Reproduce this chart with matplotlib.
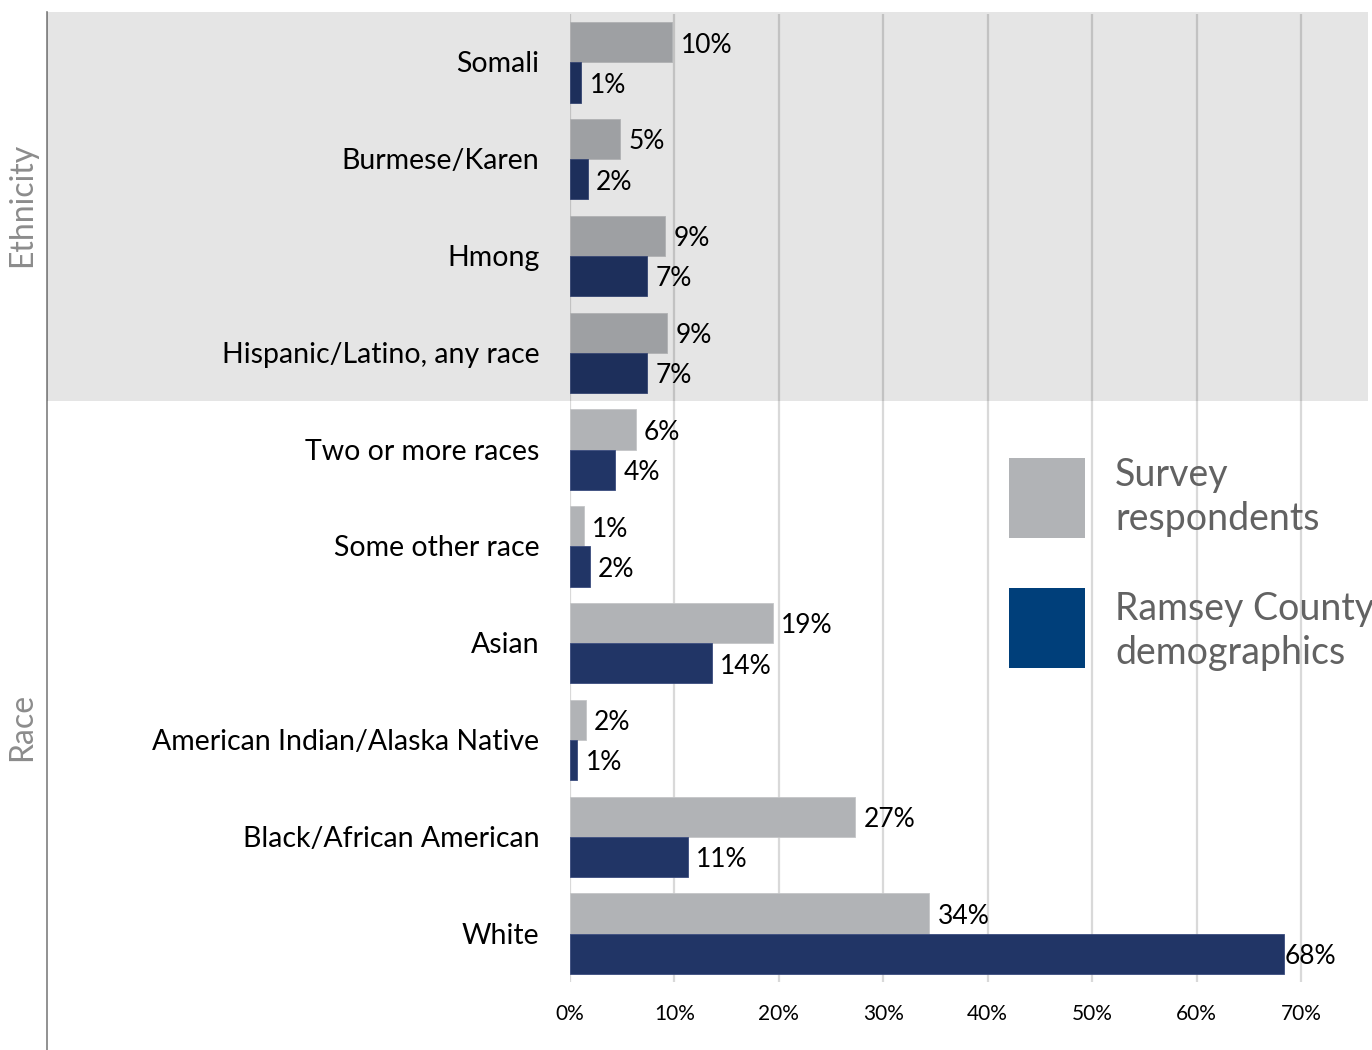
import matplotlib
matplotlib.use('Agg')
import matplotlib.pyplot as plt
from matplotlib.patches import Rectangle

# Data (percent)
categories = ['Somali', 'Burmese/Karen', 'Hmong', 'Hispanic/Latino, any race',
              'Two or more races', 'Some other race', 'Asian',
              'American Indian/Alaska Native', 'Black/African American', 'White']
survey = [9.8, 4.8, 9.1, 9.3, 6.3, 1.3, 19.4, 1.5, 27.3, 34.4]
county = [1.1, 1.7, 7.4, 7.4, 4.3, 1.9, 13.6, 0.7, 11.3, 68.4]
xticks = [0, 10, 20, 30, 40, 50, 60, 70]
n_ethnicity = 4

GRAY = '#B1B3B6'
NAVY = '#213566'
LEGEND_NAVY = '#003F7A'
FONT = 'Lato'

fig = plt.figure(figsize=(13.72, 10.5), dpi=100)
W, H = 1372., 1050.
ax = fig.add_axes([570 / W, 1 - 982 / H, (1368 - 570) / W, (982 - 14) / H])

ys = list(range(len(categories)))
h = 0.415
ax.barh([y - h / 2 for y in ys], survey, height=h, color=GRAY, edgecolor='#C4C6C8',
        linewidth=0.6, zorder=2)
ax.barh([y + h / 2 for y in ys], county, height=h, color=NAVY, edgecolor='#3B4C7E',
        linewidth=0.6, zorder=2)

ax.set_ylim(len(categories) - 0.5, -0.5)
xmax = (1368 - 570) / (1301 - 570) * 70
ax.set_xlim(0, xmax)

for sp in ax.spines.values():
    sp.set_visible(False)
ax.set_yticks([])
ax.set_xticks(xticks)
ax.set_xticklabels(['%d%%' % t for t in xticks], fontsize=15, family=FONT, color='black')
ax.tick_params(axis='x', length=0, pad=16)
ax.grid(axis='x', color='#D9D9D9', lw=1.6, zorder=0)
ax.set_axisbelow(True)

# value labels
for y, s, c in zip(ys, survey, county):
    ax.annotate('%d%%' % round(s), (s, y - h / 2), xytext=(6, -2), textcoords='offset points',
                va='center', ha='left', fontsize=19, family=FONT, zorder=5)
    ax.annotate('%d%%' % round(c), (c, y + h / 2), xytext=(6 if c < 60 else 0.5, -2),
                textcoords='offset points', va='center', ha='left', fontsize=19,
                family=FONT, zorder=5)

# category labels
for y, cat in zip(ys, categories):
    ax.annotate(cat, (0, y), xytext=(-22, -1.5), textcoords='offset points', ha='right',
                va='center', fontsize=20.5, family=FONT, annotation_clip=False, zorder=5)

# ethnicity shading (semi-transparent overlay on bars)
bot = ax.transData.transform((0, n_ethnicity - 0.5))[1]
y0 = bot / fig.dpi / 10.5
y1 = 1 - 12 / H
fig.patches.append(Rectangle((47 / W, y0), (1368 - 47) / W, y1 - y0, transform=fig.transFigure,
                             facecolor='black', alpha=0.1, edgecolor='none', zorder=3))

# left divider line
fig.add_artist(plt.Line2D([47 / W, 47 / W], [0, 1 - 12 / H], transform=fig.transFigure,
                          color='#7F7F7F', lw=1.2))

# section labels
fig.text(22 / W, 1 - 205 / H, 'Ethnicity', rotation=90, ha='center', va='center',
         fontsize=23, family=FONT, color='#8C8C8C')
fig.text(22 / W, 1 - 727 / H, 'Race', rotation=90, ha='center', va='center',
         fontsize=23, family=FONT, color='#8C8C8C')

# legend
fig.patches.append(Rectangle((1009 / W, 1 - 538 / H), 76 / W, 80 / H, transform=fig.transFigure,
                             facecolor=GRAY, edgecolor='none', zorder=4))
fig.patches.append(Rectangle((1009 / W, 1 - 668 / H), 76 / W, 80 / H, transform=fig.transFigure,
                             facecolor=LEGEND_NAVY, edgecolor='none', zorder=4))
fig.text(1115 / W, 1 - 497 / H, 'Survey\nrespondents', ha='left', va='center', fontsize=27,
         family=FONT, color='#626262', linespacing=1.3)
fig.text(1115 / W, 1 - 631 / H, 'Ramsey County\ndemographics', ha='left', va='center',
         fontsize=27, family=FONT, color='#626262', linespacing=1.3)

fig.savefig('out.png', dpi=100)
